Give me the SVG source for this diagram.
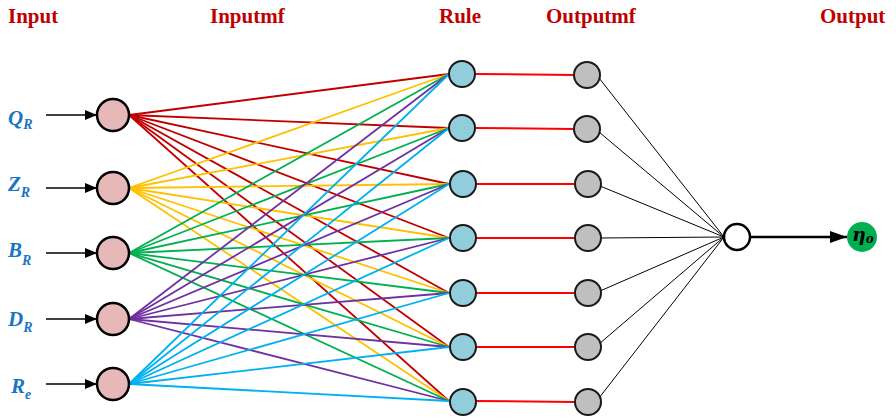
<svg xmlns="http://www.w3.org/2000/svg" width="896" height="419" viewBox="0 0 896 419">
<defs>
<marker id="ah" markerWidth="12" markerHeight="10" refX="12" refY="5" orient="auto" markerUnits="userSpaceOnUse"><path d="M0,0 L12,5 L0,10 Z" fill="#000"/></marker>
<marker id="ah2" markerWidth="17" markerHeight="12" refX="17" refY="6" orient="auto" markerUnits="userSpaceOnUse"><path d="M0,0 L17,6 L0,12 Z" fill="#000"/></marker>
<style>
.title{font-family:"Liberation Serif",serif;font-weight:bold;font-size:21px;fill:#c00000}
.lab{font-family:"Liberation Serif",serif;font-weight:bold;font-style:italic;font-size:21px;fill:#1a75c2}
.sub{font-size:14px}
.in{fill:#e6b8b7;stroke:#000;stroke-width:2.5}
.rule{fill:#92cddc;stroke:#1a1a1a;stroke-width:2}
.omf{fill:#bfbfbf;stroke:#1a1a1a;stroke-width:2}
.out{fill:#fff;stroke:#000;stroke-width:2.5}
.r{stroke:#c00000;stroke-width:1.8}
.y{stroke:#ffc000;stroke-width:1.8}
.g{stroke:#00b050;stroke-width:1.8}
.p{stroke:#7030a0;stroke-width:1.8}
.c{stroke:#00b0f0;stroke-width:1.8}
.rr{stroke:#ff0000;stroke-width:2}
.k{stroke:#000;stroke-width:1}
</style>
</defs>
<g id="titles">
<text class="title" x="8" y="23">Input</text>
<text class="title" x="210" y="23">Inputmf</text>
<text class="title" x="439" y="23">Rule</text>
<text class="title" x="546" y="23">Outputmf</text>
<text class="title" x="820" y="23">Output</text>
</g>
<g id="labels">
<text class="lab" x="8" y="125">Q<tspan class="sub" dy="4">R</tspan></text>
<text class="lab" x="8" y="191">Z<tspan class="sub" dy="6">R</tspan></text>
<text class="lab" x="8" y="257">B<tspan class="sub" dy="8">R</tspan></text>
<text class="lab" x="8" y="326">D<tspan class="sub" dy="6">R</tspan></text>
<text class="lab" x="11" y="393">R<tspan class="sub" dy="6">e</tspan></text>
</g>
<g id="connectors" fill="none">
<line x1="46" y1="115" x2="97" y2="115" class="k" style="stroke-width:1.5" marker-end="url(#ah)"/>
<line x1="46" y1="188" x2="97" y2="188" class="k" style="stroke-width:1.5" marker-end="url(#ah)"/>
<line x1="46" y1="253" x2="97" y2="253" class="k" style="stroke-width:1.5" marker-end="url(#ah)"/>
<line x1="46" y1="319" x2="97" y2="319" class="k" style="stroke-width:1.5" marker-end="url(#ah)"/>
<line x1="46" y1="384" x2="97" y2="384" class="k" style="stroke-width:1.5" marker-end="url(#ah)"/>
<g class="r">
<line x1="129" y1="115" x2="449" y2="74"/><line x1="129" y1="115" x2="449" y2="128"/><line x1="129" y1="115" x2="449" y2="184"/><line x1="129" y1="115" x2="449" y2="238"/><line x1="129" y1="115" x2="449" y2="293"/><line x1="129" y1="115" x2="449" y2="347"/><line x1="129" y1="115" x2="449" y2="401"/>
</g>
<g class="y">
<line x1="129" y1="188" x2="449" y2="74"/><line x1="129" y1="188" x2="449" y2="128"/><line x1="129" y1="188" x2="449" y2="184"/><line x1="129" y1="188" x2="449" y2="238"/><line x1="129" y1="188" x2="449" y2="293"/><line x1="129" y1="188" x2="449" y2="347"/><line x1="129" y1="188" x2="449" y2="401"/>
</g>
<g class="g">
<line x1="129" y1="253" x2="449" y2="74"/><line x1="129" y1="253" x2="449" y2="128"/><line x1="129" y1="253" x2="449" y2="184"/><line x1="129" y1="253" x2="449" y2="238"/><line x1="129" y1="253" x2="449" y2="293"/><line x1="129" y1="253" x2="449" y2="347"/><line x1="129" y1="253" x2="449" y2="401"/>
</g>
<g class="p">
<line x1="129" y1="319" x2="449" y2="74"/><line x1="129" y1="319" x2="449" y2="128"/><line x1="129" y1="319" x2="449" y2="184"/><line x1="129" y1="319" x2="449" y2="238"/><line x1="129" y1="319" x2="449" y2="293"/><line x1="129" y1="319" x2="449" y2="347"/><line x1="129" y1="319" x2="449" y2="401"/>
</g>
<g class="c">
<line x1="129" y1="384" x2="449" y2="74"/><line x1="129" y1="384" x2="449" y2="128"/><line x1="129" y1="384" x2="449" y2="184"/><line x1="129" y1="384" x2="449" y2="238"/><line x1="129" y1="384" x2="449" y2="293"/><line x1="129" y1="384" x2="449" y2="347"/><line x1="129" y1="384" x2="449" y2="401"/>
</g>
<g class="rr">
<line x1="475" y1="74" x2="574" y2="75"/><line x1="475" y1="128" x2="574" y2="129"/><line x1="475" y1="184" x2="574" y2="184"/><line x1="475" y1="238" x2="574" y2="238"/><line x1="475" y1="293" x2="574" y2="293"/><line x1="475" y1="347" x2="574" y2="347"/><line x1="475" y1="401" x2="574" y2="402"/>
</g>
<g class="k">
<line x1="599" y1="78" x2="724" y2="237"/><line x1="599" y1="132" x2="724" y2="237"/><line x1="600" y1="186" x2="724" y2="237"/><line x1="600" y1="238" x2="724" y2="237"/><line x1="600" y1="291" x2="724" y2="237"/><line x1="599" y1="344" x2="724" y2="237"/><line x1="599" y1="398" x2="724" y2="237"/>
</g>
<line x1="751" y1="237" x2="847" y2="237" stroke="#000" stroke-width="2.5" marker-end="url(#ah2)"/>
</g>
<g id="input-nodes">
<circle id="in1" class="in" cx="113" cy="115" r="16"/>
<circle id="in2" class="in" cx="113" cy="188" r="16"/>
<circle id="in3" class="in" cx="113" cy="253" r="16"/>
<circle id="in4" class="in" cx="113" cy="319" r="16"/>
<circle id="in5" class="in" cx="113" cy="384" r="16"/>
</g>
<g id="rule-nodes">
<circle id="r1" class="rule" cx="462" cy="74" r="13"/>
<circle id="r2" class="rule" cx="462" cy="128" r="13"/>
<circle id="r3" class="rule" cx="463" cy="184" r="13"/>
<circle id="r4" class="rule" cx="463" cy="238" r="13"/>
<circle id="r5" class="rule" cx="463" cy="293" r="13"/>
<circle id="r6" class="rule" cx="463" cy="347" r="13"/>
<circle id="r7" class="rule" cx="463" cy="402" r="13"/>
</g>
<g id="outputmf-nodes">
<circle id="o1" class="omf" cx="587" cy="75" r="13"/>
<circle id="o2" class="omf" cx="587" cy="129" r="13"/>
<circle id="o3" class="omf" cx="588" cy="184" r="13"/>
<circle id="o4" class="omf" cx="588" cy="238" r="13"/>
<circle id="o5" class="omf" cx="588" cy="293" r="13"/>
<circle id="o6" class="omf" cx="588" cy="347" r="13"/>
<circle id="o7" class="omf" cx="588" cy="402" r="13"/>
</g>
<g id="output-node">
<circle class="out" cx="737" cy="237" r="13"/>
</g>
<g id="eta">
<circle cx="862" cy="237" r="15" fill="#00b050"/>
<text x="852" y="241" font-family="DejaVu Serif, serif" font-style="italic" font-weight="bold" font-size="19" fill="#000">η<tspan font-size="12" dy="2">o</tspan></text>
</g>
</svg>
